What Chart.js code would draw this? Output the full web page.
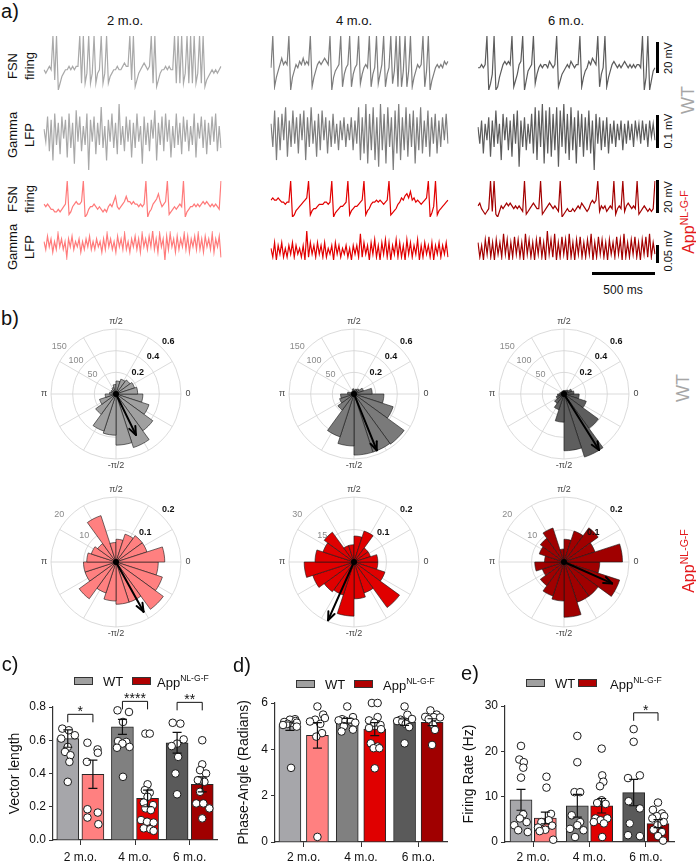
<!DOCTYPE html>
<html>
<head>
<meta charset="utf-8">
<title>FSN firing and gamma phase locking</title>
<script src="https://cdn.jsdelivr.net/npm/chart.js@4.4.1/dist/chart.umd.min.js"></script>
<style>
  body { margin: 0; background: #fff; }
  #fig { position: relative; width: 696px; height: 862px; overflow: hidden;
         font-family: 'Liberation Sans', Arial, sans-serif; color: #111; }
  #fig canvas { position: absolute; }
  .t { position: absolute; white-space: nowrap; line-height: 1; }
  .c { transform: translate(-50%, -50%); text-align: center; }
  .l { transform: translateY(-50%); }
  .r { transform: translate(-50%, -50%) rotate(-90deg); text-align: center; }
  .t sup { font-size: 0.66em; vertical-align: 0.6em; line-height: 0; }
  .sb { position: absolute; background: #000; }
  .lg { position: absolute; width: 17px; height: 6px; border: 1px solid #333; }
</style>
</head>
<body>
<div id="fig"></div>
<script>
// ---------- data ----------
const ages = ['2 m.o.', '4 m.o.', '6 m.o.'];

// a) example traces (arbitrary units, equally spaced samples)
const fsnWT2 = [0,-1,0,1,0,10,-3,10,-6,-4, -2,-1,0,0,1,0,1,0,1,1, 10,-4,10,-4,-1,10,-4,-1,10,-4, -1,0,10,-4,-1,10,-4,-2,-1,0, 0,1,0,0,1,2,1,1,10,-3, 10,-5,-3,-1,0,1,2,1,0,1, 10,-4,10,-5,-3,-1,0,0,1,0, 1,0,0,10,-4,10,-4,10,-4,-1, 10,-4,10,-4,10,-4,-1,10,-4,10, -5,-3,-2,-1,0,-1,0,-1,0,1];
const lfpWT2 = [1,-3,5,-6,4,-9,6,-4,3,-7,5,-2,4,-8,6,-5,3,-10,7,-3,5,-6,2,-4,6,-12,4,-3,5,-7,3,-4,8,-5,2,-9,4,-3,6,-5,3,-7,9,-4,2,-6,5,-3,4,-8,3,-5,6,-3,2,-10,5,-4,3,-6,4,-2,7,-9,3,-4,5,-6,6,-3,4,-8,2,-5,6,-4,3,-7,5,-3,4,-6,2,-4,6,-8,3,-2,5,-5,4,-7,3,-4,5,-3,6,-6,2,-5];
const fsnApp2 = [1,0,1,0,-1,-1,-2,-2,-1,-2, -1,0,1,10,-3,-2,0,1,2,1, 1,2,10,-4,-3,-1,0,0,1,0, -1,0,-1,-2,-1,-2,0,1,0,2, 4,0,-1,0,1,2,4,2,2,1, 2,1,1,0,1,0,1,10,-4,-2, -1,1,2,3,5,2,0,1,2,10, -3,-2,-1,0,-1,0,1,0,10,-4, -2,-1,0,0,1,0,1,0,1,2, 1,2,1,0,1,0,1,0,-1,10];
const lfpApp2 = [1,-2,3,-1,2,-3,1,-2,4,-1,2,-2,1,-5,2,-1,3,-2,1,-1,2,-3,1,-2,2,-1,3,-2,1,-2,2,-1,1,-3,2,-2,4,-1,2,-2,1,-3,3,-1,2,-2,4,-2,1,-3,2,-1,3,-2,2,-3,4,-1,2,-2,3,-1,5,-2,2,-3,4,-1,2,-6,3,-2,4,-1,2,-3,3,-2,2,-1,4,-2,3,-3,2,-1,3,-2,4,-2,2,-3,3,-1,2,-2,4,-3,2,-1,3,-5];

const fsnWT4 = [0,10,-6,-3,-1,1,3,1,2,1, 10,-7,-3,-1,1,0,2,1,3,1, 2,1,10,-6,-3,-1,1,2,1,2, 3,2,1,10,-7,-3,-1,0,1,10, -6,-2,0,1,10,-6,-2,0,1,10, -5,-2,0,1,0,10,-6,-2,0,10, -5,-2,1,10,-6,-2,0,10,-5,-1, 10,-6,10,-6,-1,10,-6,-1,10,-6, -3,-1,1,0,1,10,-6,-1,10,-7, -4,-2,0,1,0,1,0,2,1,2];
const lfpWT4 = [2,-5,6,-9,4,-6,5,-3,7,-8,3,-5,6,-4,4,-7,5,-3,6,-9,4,-5,7,-4,3,-8,5,-6,6,-3,4,-7,3,-5,5,-4,2,-6,3,-3,4,-5,2,-3,4,-6,3,-4,7,-9,4,-7,8,-10,5,-6,7,-9,4,-11,8,-6,5,-10,7,-5,4,-12,6,-7,8,-9,4,-6,7,-8,5,-5,6,-10,4,-6,7,-7,3,-5,6,-8,4,-4,5,-7,3,-5,4,-3,5,-4];
const fsnApp4 = [1,2,1,1,2,1,0,0,-1,0, 0,10,-7,-6,-4,-3,-2,-1,0,1, 2,10,-6,-4,-3,-3,-2,-1,-1,-1, 0,0,-1,0,10,-7,-5,-4,-3,-2, -2,-1,0,10,-6,-4,-3,-2,-2,-1, 0,1,10,-6,-4,-3,-1,0,0,1, 0,1,0,-1,0,1,10,-6,-5,-4, -3,-1,0,2,1,3,4,2,5,1, 2,0,1,0,-1,0,1,2,10,-7, -5,-2,10,-6,-4,-3,-2,-1,0,1];
const lfpApp4 = [1,-2,3,-3,2,-1,3,-2,1,-2,2,-1,3,-2,2,-1,1,-2,2,-3,7,-2,3,-1,2,-2,3,-1,2,-2,3,-2,1,-1,2,-3,3,-1,2,-2,1,-1,2,-2,1,-3,2,-1,2,-2,6,-2,3,-1,2,-3,3,-1,4,-2,2,-3,3,-1,4,-2,3,-3,2,-1,4,-2,3,-2,2,-3,4,-1,3,-2,2,-1,4,-3,2,-2,3,-1,2,-2,3,-3,2,-1,3,-2,2,-1,3,-2];

const fsnWT6 = [0,0,1,0,1,10,-7,-5,-2,10, -7,-6,-3,-1,1,2,1,2,1,10, -6,-4,-2,1,2,10,-7,-4,-1,0, 1,10,-5,-2,0,1,0,1,1,0, 2,1,0,1,10,-6,-4,-2,-1,0, 1,0,2,1,0,1,1,10,-6,-3, -1,0,2,1,3,2,1,10,-6,-2, 0,10,-6,-3,-1,1,2,1,0,1, 0,1,2,1,0,1,0,1,0,1, 1,0,10,-7,-3,10,-7,-4,-1,0];
const lfpWT6 = [1,-4,3,-7,2,-3,4,-8,3,-5,6,-4,2,-9,5,-3,4,-6,3,-8,5,-4,6,-11,3,-5,4,-6,2,-4,5,-7,7,-9,6,-5,8,-10,6,-7,7,-8,5,-6,7,-11,6,-5,8,-7,5,-9,7,-6,4,-10,6,-5,5,-8,4,-6,6,-7,3,-12,5,-4,4,-6,3,-5,4,-7,2,-4,3,-5,2,-3,3,-6,2,-4,3,-3,2,-5,3,-2,2,-4,3,-3,2,-5,3,-2,2,-3];
const fsnApp6 = [1,2,0,-1,-2,-1,0,10,-1,10, -2,-3,-1,1,0,1,2,1,2,1, 0,1,0,1,0,-1,10,-2,-1,0, 1,2,1,0,0,10,-2,-1,0,1, 2,1,0,1,0,-1,10,-3,-2,-1, 0,-1,-1,0,-1,0,1,0,2,1, 0,-1,0,2,3,2,3,10,-1,1, 0,1,-1,0,1,0,10,-2,0,1, 0,10,-1,1,2,1,0,1,0,10, -2,-1,0,1,0,-1,0,-1,0,10];
const lfpApp6 = [2,-3,1,-4,3,-2,4,-3,2,-4,3,-2,2,-3,5,-2,3,-4,2,-3,4,-2,3,-3,2,-4,5,-2,3,-3,2,-4,3,-2,4,-3,2,-4,6,-2,3,-3,5,-4,2,-3,4,-2,3,-4,5,-3,2,-4,3,-2,4,-3,2,-3,3,-2,5,-4,2,-3,4,-2,3,-3,2,-4,3,-2,2,-3,4,-2,3,-4,5,-3,2,-3,3,-2,4,-3,2,-4,3,-2,4,-3,5,-3,2,-2];

// b) phase histograms: counts per 18-degree bin, counter-clockwise from 0 rad
const roseWT2 = [50, 45, 40, 36, 30, 22, 16, 13, 12, 15, 25, 40, 58, 90, 95, 118, 130, 105, 80, 62];
const roseWT4 = [42, 23, 15, 12, 9, 12, 8, 6, 8, 15, 31, 35, 46, 104, 120, 141, 141, 143, 95, 69];
const roseWT6 = [23, 19, 12, 9, 8, 8, 7, 7, 8, 10, 15, 19, 27, 38, 65, 131, 153, 98, 54, 35];
const roseApp2 = [15, 10, 10, 9, 7, 6, 15, 7, 8, 9, 10, 10, 14, 10, 12, 13, 13, 18, 15, 13];
const roseApp4 = [11, 8, 8, 15, 12, 8, 8, 17, 15, 18, 23, 20, 17, 16, 25, 17, 15, 26, 15, 11];
const roseApp6 = [18, 10, 13, 10, 7, 4, 11, 9, 8, 6, 9, 7, 9, 11, 12, 17, 13, 13, 18, 11];
const vecLenWT = [0.42, 0.56, 0.61];
const vecDirWT = [-64, -68, -58];     // degrees
const vecLenApp = [0.175, 0.196, 0.162];
const vecDirApp = [-61, -114, -24];
const countTicksWT = [50, 100, 150];
const countTicksApp = [[10, 20], [15, 30], [10, 20]];
const vlTicksWT = [0.2, 0.4, 0.6];
const vlTicksApp = [0.1, 0.2];

// c) vector length
const vlMeanWT = [0.61, 0.68, 0.585];
const vlMeanApp = [0.395, 0.25, 0.335];
const vlSemWT = [0.052, 0.045, 0.062];
const vlSemApp = [0.085, 0.05, 0.045];
const vlPtsWT = [
  [0.67, 0.66, 0.63, 0.61, 0.56, 0.53, 0.51, 0.47, 0.35],
  [0.78, 0.77, 0.71, 0.595, 0.59, 0.58, 0.56, 0.555, 0.38],
  [0.705, 0.70, 0.605, 0.58, 0.565, 0.50, 0.40, 0.275]
];
const vlJitWT = [
  [-0.10, 0.02, 0.13, -0.12, 0.0, -0.05, 0.05, 0.03, 0.0],
  [-0.09, 0.12, 0.01, -0.08, 0.07, 0.0, 0.13, -0.1, 0.01],
  [-0.08, 0.06, 0.12, 0.0, -0.1, 0.02, -0.03, 0.0]
];
const vlPtsApp = [
  [0.585, 0.545, 0.525, 0.47, 0.185, 0.165, 0.135, 0.095],
  [0.64, 0.64, 0.335, 0.30, 0.285, 0.26, 0.225, 0.21, 0.19, 0.18, 0.12, 0.11, 0.105, 0.07, 0.065, 0.055],
  [0.60, 0.455, 0.42, 0.40, 0.36, 0.35, 0.29, 0.22, 0.22, 0.19, 0.13]
];
const vlJitApp = [
  [-0.1, 0.085, 0.09, -0.11, -0.1, 0.09, -0.1, 0.1],
  [-0.04, 0.04, 0.0, -0.05, 0.04, 0.0, -0.07, 0.1, -0.04, 0.06, -0.12, -0.01, 0.11, -0.07, 0.05, 0.11],
  [0.0, 0.0, -0.04, 0.07, -0.08, 0.04, -0.04, -0.11, 0.02, 0.13, 0.0]
];
const vlSigGroups = [0, 1, 2];
const vlSigLevels = [0.756, 0.834, 0.828];
const vlSigMarks = ['*', '****', '**'];

// d) phase angle
const paMeanWT = [5.0, 5.23, 5.17];
const paMeanApp = [4.6, 4.87, 5.17];
const paSemWT = [0.18, 0.1, 0.14];
const paSemApp = [0.55, 0.28, 0.15];
const paPtsWT = [
  [5.3, 5.28, 5.22, 5.18, 5.15, 5.1, 5.05, 4.98, 3.2],
  [5.85, 5.39, 5.3, 5.25, 5.23, 5.2, 5.15, 5.0, 4.85, 4.77],
  [5.85, 5.49, 5.31, 5.28, 5.22, 5.2, 5.1, 4.96, 4.26]
];
const paJitWT = [
  [0.09, 0.0, 0.1, -0.1, 0.12, -0.04, -0.12, 0.12, 0.02],
  [0.0, 0.1, -0.09, -0.15, -0.03, 0.06, 0.14, -0.06, 0.1, -0.1],
  [0.0, 0.05, 0.13, -0.07, -0.13, -0.04, 0.02, 0.08, 0.0]
];
const paPtsApp = [
  [5.85, 5.5, 5.35, 5.28, 5.2, 5.1, 4.7, 4.55, 0.22],
  [6.0, 6.0, 5.39, 5.25, 5.15, 5.05, 4.92, 4.87, 4.26, 4.12, 4.05, 4.05, 3.18],
  [5.68, 5.5, 5.4, 5.39, 5.38, 5.3, 5.06, 4.84, 4.19]
];
const paJitApp = [
  [0.0, 0.1, 0.13, -0.04, -0.13, 0.05, 0.08, -0.02, 0.0],
  [-0.05, 0.05, 0.05, -0.1, -0.01, 0.1, -0.1, 0.11, -0.07, 0.05, -0.02, 0.08, 0.0],
  [-0.03, 0.08, -0.12, 0.03, 0.14, -0.06, 0.02, 0.05, 0.0]
];

// e) firing rate
const frMeanWT = [9.3, 8.0, 10.9];
const frMeanApp = [5.3, 8.0, 4.05];
const frSemWT = [2.3, 2.5, 2.9];
const frSemApp = [1.3, 1.6, 0.9];
const frPtsWT = [
  [21.2, 18.2, 17.6, 16.4, 14.2, 6.1, 5.2, 4.4, 3.7, 2.6, 2.2],
  [23.4, 17.6, 11.0, 11.0, 5.9, 4.4, 3.7, 2.9, 2.6, 1.1],
  [24.9, 22.1, 14.7, 14.1, 9.0, 7.4, 4.1, 1.5, 1.3]
];
const frJitWT = [
  [0.0, -0.03, 0.05, 0.04, 0.0, 0.04, -0.02, 0.1, -0.12, -0.05, 0.12],
  [0.0, 0.0, -0.05, 0.05, -0.1, 0.05, 0.0, -0.13, 0.11, -0.04],
  [0.0, 0.0, 0.11, -0.1, -0.09, 0.11, -0.07, -0.1, 0.11]
];
const frPtsApp = [
  [14.4, 12.0, 6.2, 4.8, 4.4, 3.6, 3.2, 2.7, 2.4, 0.5],
  [20.6, 14.7, 13.3, 12.3, 9.2, 8.6, 8.4, 5.2, 5.2, 4.8, 4.4, 4.1, 1.1],
  [8.7, 7.1, 6.3, 5.7, 5.7, 5.2, 4.4, 3.7, 2.7, 2.2, 1.3, 0.3]
];
const frJitApp = [
  [0.02, 0.02, 0.1, 0.06, -0.07, 0.12, -0.13, 0.0, -0.1, 0.14],
  [0.0, 0.01, 0.03, -0.03, 0.0, -0.08, 0.07, -0.11, 0.1, -0.02, -0.14, 0.04, 0.01],
  [0.0, -0.09, 0.07, -0.02, 0.11, -0.1, 0.1, -0.01, -0.08, 0.07, 0.0, 0.09]
];
const frSigGroups = [2];
const frSigLevels = [28.5];
const frSigMarks = ['*'];

// ---------- styling ----------
const FONT = "'Liberation Sans', Arial, sans-serif";
Chart.defaults.font.family = FONT;
Chart.defaults.color = '#1a1a1a';
Chart.defaults.animation = false;

const wtShades = ['#a6a6aa', '#808080', '#5a5a5a'];
const appShades = ['#ff8080', '#e00000', '#a00000'];
const wtTrace = ['#a9a9a9', '#7e7e7e', '#5c5c5c'];
const appTrace = ['#ff7b7b', '#e20000', '#a30000'];

const fig = document.getElementById('fig');

function mkCanvas(x, y, w, h) {
  const c = document.createElement('canvas');
  c.width = w; c.height = h;
  c.style.left = x + 'px'; c.style.top = y + 'px';
  fig.appendChild(c);
  return c;
}

function label(html, x, y, cls, css) {
  const d = document.createElement('div');
  d.className = 't ' + cls;
  d.innerHTML = html;
  d.style.left = x + 'px';
  d.style.top = y + 'px';
  Object.assign(d.style, css || {});
  fig.appendChild(d);
}

function box(cls, x, y, w, h, bg) {
  const d = document.createElement('div');
  d.className = cls;
  Object.assign(d.style, { left: x + 'px', top: y + 'px', width: w + 'px', height: h + 'px' });
  if (bg) d.style.background = bg;
  fig.appendChild(d);
}

const APP = 'App<sup>NL-G-F</sup>';

// ---------- a) traces ----------
const traceX = [43, 270, 477];
const traceRows = [[35, 56], [103, 68], [180, 38], [230, 31]];
const traces = [
  [fsnWT2, lfpWT2, fsnApp2, lfpApp2],
  [fsnWT4, lfpWT4, fsnApp4, lfpApp4],
  [fsnWT6, lfpWT6, fsnApp6, lfpApp6]
];

function traceChart(x, y, w, h, values, color) {
  new Chart(mkCanvas(x, y, w, h), {
    type: 'line',
    data: {
      labels: values.map((_, i) => i),
      datasets: [{ data: values, borderColor: color, borderWidth: 1.2, pointRadius: 0, tension: 0, fill: false }]
    },
    options: {
      responsive: false,
      events: [],
      layout: { padding: 1 },
      plugins: { legend: { display: false }, tooltip: { enabled: false } },
      scales: {
        x: { display: false },
        y: { display: false, min: Math.min(...values), max: Math.max(...values) }
      }
    }
  });
}

traces.forEach((col, c) => {
  col.forEach((vals, r) => {
    const color = r < 2 ? wtTrace[c] : appTrace[c];
    traceChart(traceX[c], traceRows[r][0], 179, traceRows[r][1], vals, color);
  });
});

label('a)', 10, 11, 'c', { fontSize: '20px' });
label('2 m.o.', 125, 20, 'c', { fontSize: '13px' });
label('4 m.o.', 354, 20, 'c', { fontSize: '13px' });
label('6 m.o.', 566, 20, 'c', { fontSize: '13px' });
label('FSN<br>firing', 21, 66, 'r', { fontSize: '13px', lineHeight: '17px' });
label('Gamma<br>LFP', 21, 135, 'r', { fontSize: '13px', lineHeight: '17px' });
label('FSN<br>firing', 21, 199, 'r', { fontSize: '13px', lineHeight: '17px' });
label('Gamma<br>LFP', 21, 247, 'r', { fontSize: '13px', lineHeight: '17px' });

// scale bars
box('sb', 656, 42, 2.5, 31);
box('sb', 656, 115, 2.5, 33);
box('sb', 656, 180, 2.5, 33);
box('sb', 656, 245, 2.5, 18);
box('sb', 592, 272, 63, 2.5);
label('20 mV', 668, 58, 'r', { fontSize: '11px' });
label('0.1 mV', 668, 131, 'r', { fontSize: '11px' });
label('20 mV', 668, 197, 'r', { fontSize: '11px' });
label('0.05 mV', 668, 251, 'r', { fontSize: '11px' });
label('500 ms', 623, 290, 'c', { fontSize: '12px' });
label('WT', 688, 100, 'r', { fontSize: '18px', color: '#a6a6a6' });
label(APP, 689, 222, 'r', { fontSize: '16px', color: '#e3191c' });

// ---------- b) rose plots ----------
function rosePlugin(cfg) {
  return {
    id: 'rose',
    beforeDatasetsDraw(chart) {
      const s = chart.scales.r, ctx = chart.ctx;
      ctx.save();
      ctx.strokeStyle = '#d2d2d2';
      ctx.lineWidth = 0.8;
      for (let a = 0; a < 360; a += 30) {
        const t = a * Math.PI / 180;
        ctx.beginPath();
        ctx.moveTo(s.xCenter, s.yCenter);
        ctx.lineTo(s.xCenter + s.drawingArea * Math.cos(t), s.yCenter - s.drawingArea * Math.sin(t));
        ctx.stroke();
      }
      ctx.restore();
    },
    afterDatasetsDraw(chart) {
      const s = chart.scales.r, ctx = chart.ctx;
      const cx = s.xCenter, cy = s.yCenter, R = s.drawingArea;
      const pt = (r, deg) => [cx + r * Math.cos(deg * Math.PI / 180), cy - r * Math.sin(deg * Math.PI / 180)];
      ctx.save();
      // mean vector
      const perVL = cfg.counts[cfg.counts.length - 1] / cfg.vl[cfg.vl.length - 1];
      const [tx, ty] = pt(s.getDistanceFromCenterForValue(cfg.len * perVL), cfg.dir);
      ctx.strokeStyle = '#000';
      ctx.lineWidth = 2;
      ctx.lineCap = 'round';
      ctx.beginPath();
      ctx.moveTo(cx, cy);
      ctx.lineTo(tx, ty);
      ctx.stroke();
      [-22, 22].forEach(d => {
        const a = (cfg.dir + 180 + d) * Math.PI / 180;
        ctx.beginPath();
        ctx.moveTo(tx, ty);
        ctx.lineTo(tx + 9 * Math.cos(a), ty - 9 * Math.sin(a));
        ctx.stroke();
      });
      ctx.fillStyle = '#000';
      ctx.beginPath();
      ctx.arc(cx, cy, 3, 0, 2 * Math.PI);
      ctx.fill();
      // labels
      ctx.textAlign = 'center';
      ctx.textBaseline = 'middle';
      ctx.font = '9px ' + FONT;
      ctx.fillStyle = '#444';
      [['\u03c0/2', 90], ['0', 0], ['\u03c0', 180], ['-\u03c0/2', 270]].forEach(([t, a]) => {
        const [x, y] = pt(R + 7, a);
        ctx.fillText(t, x, y);
      });
      ctx.fillStyle = '#8a8a8a';
      cfg.counts.forEach(v => {
        const [x, y] = pt(s.getDistanceFromCenterForValue(v) + 9, 140);
        ctx.fillText(String(v), x, y);
      });
      ctx.font = 'bold 9px ' + FONT;
      ctx.fillStyle = '#111';
      cfg.vl.forEach((v, i) => {
        const [x, y] = pt(s.getDistanceFromCenterForValue(cfg.counts[i]) + 9, 45);
        ctx.fillText(String(v), x, y);
      });
      ctx.restore();
    }
  };
}

function roseChart(cx, cy, counts, fill, cfg) {
  const size = 180, pad = 25;
  new Chart(mkCanvas(cx - size / 2, cy - size / 2, size, size), {
    type: 'polarArea',
    data: {
      labels: counts.map((_, i) => i),
      datasets: [{ data: counts.slice().reverse(), backgroundColor: fill, borderColor: '#161616', borderWidth: 0.6 }]
    },
    options: {
      responsive: false,
      events: [],
      layout: { padding: pad },
      plugins: { legend: { display: false }, tooltip: { enabled: false } },
      scales: {
        r: {
          min: 0,
          max: cfg.counts[cfg.counts.length - 1],
          startAngle: 90,
          ticks: { display: false, stepSize: cfg.counts[0] },
          grid: { color: '#d2d2d2', lineWidth: 0.8 },
          angleLines: { display: false },
          pointLabels: { display: false }
        }
      }
    },
    plugins: [rosePlugin(cfg)]
  });
}

const roseX = [116, 354, 564];
const roseWT = [roseWT2, roseWT4, roseWT6];
const roseApp = [roseApp2, roseApp4, roseApp6];
const roseWTFill = ['#a0a0a0', '#7a7a7a', '#5e5e5e'];
roseX.forEach((x, i) => {
  roseChart(x, 394, roseWT[i], roseWTFill[i],
    { counts: countTicksWT, vl: vlTicksWT, len: vecLenWT[i], dir: vecDirWT[i] });
  roseChart(x, 562, roseApp[i], appShades[i],
    { counts: countTicksApp[i], vl: vlTicksApp, len: vecLenApp[i], dir: vecDirApp[i] });
});

label('b)', 10, 318, 'c', { fontSize: '20px' });
label('WT', 683, 388, 'r', { fontSize: '18px', color: '#a6a6a6' });
label(APP, 689, 561, 'r', { fontSize: '16px', color: '#e3191c' });

// ---------- c, d, e) grouped bars ----------
function barExtras(means, sems, sig) {
  return {
    id: 'extras',
    afterDatasetsDraw(chart) {
      const ctx = chart.ctx, y = chart.scales.y;
      ctx.save();
      ctx.strokeStyle = '#111';
      ctx.lineWidth = 1.2;
      [0, 1].forEach(d => {
        chart.getDatasetMeta(d).data.forEach((bar, i) => {
          const top = y.getPixelForValue(means[d][i] + sems[d][i]);
          const bot = y.getPixelForValue(means[d][i] - sems[d][i]);
          ctx.beginPath();
          ctx.moveTo(bar.x, top); ctx.lineTo(bar.x, bot);
          ctx.moveTo(bar.x - 4.5, top); ctx.lineTo(bar.x + 4.5, top);
          ctx.moveTo(bar.x - 4.5, bot); ctx.lineTo(bar.x + 4.5, bot);
          ctx.stroke();
        });
      });
      ctx.lineWidth = 1;
      ctx.fillStyle = '#111';
      ctx.textAlign = 'center';
      ctx.textBaseline = 'alphabetic';
      ctx.font = '14px ' + FONT;
      sig.groups.forEach((g, i) => {
        const x1 = chart.getDatasetMeta(0).data[g].x;
        const x2 = chart.getDatasetMeta(1).data[g].x;
        const yy = y.getPixelForValue(sig.levels[i]);
        ctx.beginPath();
        ctx.moveTo(x1, yy + 8); ctx.lineTo(x1, yy); ctx.lineTo(x2, yy); ctx.lineTo(x2, yy + 8);
        ctx.stroke();
        ctx.fillText(sig.marks[i], (x1 + x2) / 2, yy + 2);
      });
      ctx.restore();
    }
  };
}

const toPoints = (vals, jit, off) => vals.flatMap((grp, g) => grp.map((v, i) => ({ x: g + off + jit[g][i], y: v })));

function groupChart(x, w, cfg) {
  const axisColor = '#333';
  const barSet = (means, colors, off) => ({
    type: 'bar',
    data: means.map((v, g) => ({ x: g + off, y: v })),
    backgroundColor: colors, borderColor: '#262626', borderWidth: 1,
    barThickness: cfg.barW, grouped: false, order: 3
  });
  const dotSet = (vals, jit, off) => ({
    type: 'scatter',
    data: toPoints(vals, jit, off),
    order: 1, clip: false, pointRadius: 3.8, backgroundColor: '#fff', borderColor: '#1a1a1a', borderWidth: 1
  });
  new Chart(mkCanvas(x, 690, w, 172), {
    type: 'bar',
    data: {
      datasets: [
        barSet(cfg.mWT, wtShades, -cfg.off),
        barSet(cfg.mApp, appShades, cfg.off),
        dotSet(cfg.pWT, cfg.jWT, -cfg.off),
        dotSet(cfg.pApp, cfg.jApp, cfg.off)
      ]
    },
    options: {
      responsive: false,
      events: [],
      layout: { padding: { top: cfg.padTop, right: 4, left: 0, bottom: 0 } },
      plugins: { legend: { display: false }, tooltip: { enabled: false } },
      scales: {
        x: {
          type: 'linear', min: -0.5, max: 2.5, offset: false,
          afterBuildTicks: s => { s.ticks = ages.map((_, i) => ({ value: i })); },
          grid: { display: true, drawOnChartArea: false, drawTicks: true, tickLength: 5, color: axisColor, offset: false },
          border: { display: true, color: axisColor, width: 1.2 },
          ticks: { font: { size: 12 }, color: '#111', padding: cfg.labelPad, autoSkip: false, maxRotation: 0,
                   callback: v => ages[v] },
          afterFit: s => { s.height = 862 - 690 - cfg.padTop - cfg.plotH; }
        },
        y: {
          min: 0, max: cfg.yMax,
          ticks: { stepSize: cfg.step, font: { size: 12 }, color: '#111', padding: 3,
                   callback: v => v.toFixed(cfg.decimals) },
          grid: { display: true, drawOnChartArea: false, drawTicks: true, tickLength: 4, color: axisColor },
          border: { display: true, color: axisColor, width: 1.2 },
          title: { display: true, text: cfg.title, font: { size: 14 }, color: '#111', padding: { top: cfg.titlePad, bottom: 0 } },
          afterFit: s => { s.width = cfg.yWidth; }
        }
      }
    },
    plugins: [barExtras([cfg.mWT, cfg.mApp], [cfg.sWT, cfg.sApp], cfg.sig)]
  });
}

groupChart(0, 222, {
  mWT: vlMeanWT, mApp: vlMeanApp, sWT: vlSemWT, sApp: vlSemApp,
  pWT: vlPtsWT, pApp: vlPtsApp, jWT: vlJitWT, jApp: vlJitApp,
  yMax: 0.8, step: 0.2, decimals: 1, title: 'Vector length', titlePad: 7,
  padTop: 17, plotH: 133, yWidth: 53, off: 0.23, barW: 22, labelPad: 5,
  sig: { groups: vlSigGroups, levels: vlSigLevels, marks: vlSigMarks }
});
groupChart(232, 220, {
  mWT: paMeanWT, mApp: paMeanApp, sWT: paSemWT, sApp: paSemApp,
  pWT: paPtsWT, pApp: paPtsApp, jWT: paJitWT, jApp: paJitApp,
  yMax: 6, step: 2, decimals: 0, title: 'Phase-Angle (Radians)', titlePad: 4,
  padTop: 13, plotH: 139, yWidth: 43, off: 0.24, barW: 22, labelPad: 3,
  sig: { groups: [], levels: [], marks: [] }
});
groupChart(460, 219, {
  mWT: frMeanWT, mApp: frMeanApp, sWT: frSemWT, sApp: frSemApp,
  pWT: frPtsWT, pApp: frPtsApp, jWT: frJitWT, jApp: frJitApp,
  yMax: 30, step: 10, decimals: 0, title: 'Firing Rate (Hz)', titlePad: 1,
  padTop: 16, plotH: 136, yWidth: 45, off: 0.216, barW: 22, labelPad: 3,
  sig: { groups: frSigGroups, levels: frSigLevels, marks: frSigMarks }
});

label('c)', 10, 664, 'c', { fontSize: '20px' });
label('d)', 242, 665, 'c', { fontSize: '20px' });
label('e)', 470, 673, 'c', { fontSize: '20px' });

// legends
[[74, 103, 132, 157, 681], [296, 325, 354, 383, 684], [526, 555, 578, 610, 683]].forEach(([b1, t1, b2, t2, y]) => {
  box('lg', b1, y - 4, 17, 6, '#a0a0a0');
  label('WT', t1, y, 'l', { fontSize: '13px' });
  box('lg', b2, y - 4, 17, 6, '#b00000');
  label(APP, t2, y + 1, 'l', { fontSize: '13px' });
});
</script>
</body>
</html>
